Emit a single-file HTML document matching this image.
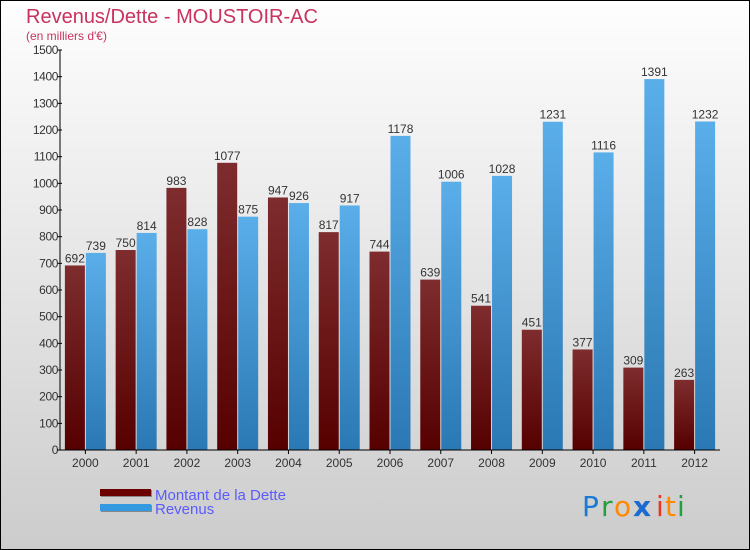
<!DOCTYPE html>
<html><head><meta charset="utf-8"><style>
body{margin:0}
svg{display:block;font-family:"Liberation Sans",sans-serif}
</style></head><body>
<svg id="chart" width="750" height="550" xmlns="http://www.w3.org/2000/svg">
<defs>
<linearGradient id="bg" x1="0" y1="0" x2="0" y2="1"><stop offset="0" stop-color="#fefefe"/><stop offset="1" stop-color="#cccccc"/></linearGradient>
<linearGradient id="gd" x1="0" y1="0" x2="0" y2="1"><stop offset="0" stop-color="#7e2c2e"/><stop offset="1" stop-color="#560000"/></linearGradient>
<linearGradient id="gr" x1="0" y1="0" x2="0" y2="1"><stop offset="0" stop-color="#5aaee9"/><stop offset="1" stop-color="#2a78b4"/></linearGradient>
</defs>
<rect x="0.5" y="0.5" width="749" height="549" fill="url(#bg)" stroke="#000"/>
<text x="26" y="23" font-size="20" fill="#c8325e">Revenus/Dette - MOUSTOIR-AC</text>
<text x="26" y="40" font-size="12" fill="#c8325e">(en milliers d'€)</text>
<g id="plot"></g>
<g>
<rect x="101" y="490" width="51" height="7" fill="#888"/><rect x="100" y="489" width="51" height="7" fill="#6a0000"/>
<text x="155" y="500" font-size="15" fill="#5a5aff">Montant de la Dette</text>
<rect x="101" y="505" width="51" height="7" fill="#888"/><rect x="100" y="504" width="51" height="7" fill="#3399e0"/>
<text x="155" y="514" font-size="15" fill="#5a5aff">Revenus</text>
</g>
<g font-size="28" font-family="'DejaVu Sans',sans-serif">
<text x="582" y="516" fill="#1a7ad8">P</text><text x="601" y="516" fill="#22a040">r</text><text x="614" y="516" fill="#ff8800">o</text><text x="633" y="516" fill="#1a6ad0" font-weight="bold">x</text><text x="656" y="516" fill="#ee3322">i</text><text x="665" y="516" fill="#ff8800">t</text><text x="677" y="516" fill="#22a040">i</text>
</g>
</svg>
<script>
const categories=["2000","2001","2002","2003","2004","2005","2006","2007","2008","2009","2010","2011","2012"];
const dette=[692,750,983,1077,947,817,744,639,541,451,377,309,263];
const revenus=[739,814,828,875,926,917,1178,1006,1028,1231,1116,1391,1232];
const yTicks=[0,100,200,300,400,500,600,700,800,900,1000,1100,1200,1300,1400,1500];
const NS="http://www.w3.org/2000/svg";
const L=60,R=720,T=50,B=450,YMAX=1500;
const y=v=>B-(v/YMAX)*(B-T);
const gw=(R-L)/categories.length;
const xc=i=>L+gw*(i+0.5);
const g=document.getElementById('plot');
function mk(tag,attrs){const e=document.createElementNS(NS,tag);for(const k in attrs)e.setAttribute(k,attrs[k]);g.appendChild(e);return e;}
categories.forEach((c,i)=>{
  const cx=xc(i);
  const b1=mk('rect',{x:cx-20.5,y:y(dette[i]),width:20,height:B-y(dette[i]),fill:'url(#gd)'});
  
  
  const b2=mk('rect',{x:cx+0.5,y:y(revenus[i]),width:20,height:B-y(revenus[i]),fill:'url(#gr)'});
  
  
  const t1=mk('text',{x:cx-10.5,y:y(dette[i])-3,'font-size':12,fill:'#333','text-anchor':'middle'});
  t1.textContent=dette[i];
  
  
  const t2=mk('text',{x:cx+10.5,y:y(revenus[i])-3,'font-size':12,fill:'#333','text-anchor':'middle'});
  t2.textContent=revenus[i];
  
  
  const tk=mk('line',{x1:cx,x2:cx,y1:B,y2:B+4,stroke:'#000'});
  
  
  const xl=mk('text',{x:cx,y:B+17,'font-size':12,fill:'#333','text-anchor':'middle'});
  xl.textContent=c;
  
  
});
yTicks.forEach(v=>{
  const tk=mk('line',{x1:L-3,x2:L+2,y1:y(v),y2:y(v),stroke:'#000'});
  
  
  const tl=mk('text',{x:L-2,y:y(v)+4,'font-size':12,fill:'#333','text-anchor':'end','letter-spacing':'-0.4'});
  tl.textContent=v;
  
  
});
const ya=mk('line',{x1:L,x2:L,y1:T,y2:B,stroke:'#000'});


const xa=mk('line',{x1:L-3,x2:R,y1:B,y2:B,stroke:'#000'});


</script>
</body></html>
